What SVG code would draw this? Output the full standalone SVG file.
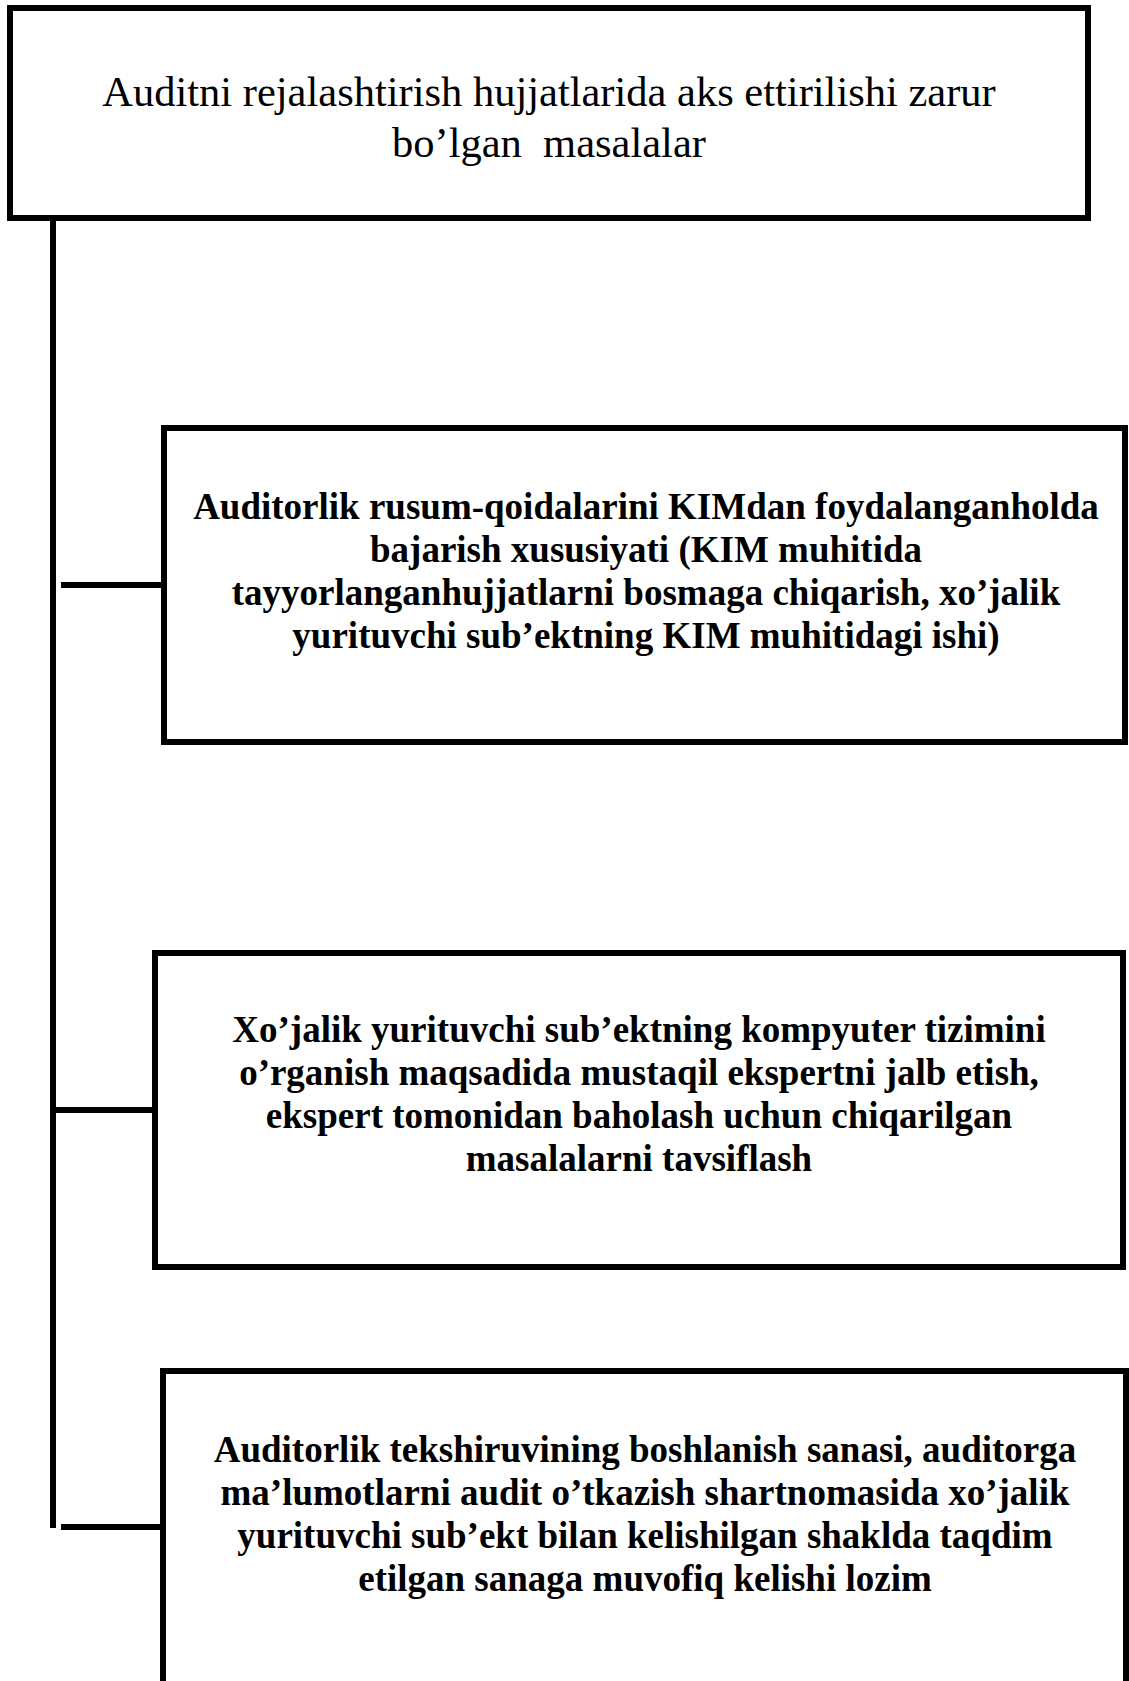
<svg xmlns="http://www.w3.org/2000/svg" width="1129" height="1681" viewBox="0 0 1129 1681">
<style>
.box{fill:#fff;stroke:#000;stroke-width:6}
.ln{stroke:#000;stroke-width:6;fill:none}
.t{font-family:"Liberation Serif","Times New Roman",serif;fill:#000;text-anchor:middle}
.h{font-size:42.5px}
.b{font-size:37px;font-weight:bold}
</style>
<rect width="1129" height="1681" fill="#fff"/>
<g id="connectors">
<line class="ln" x1="53" y1="218" x2="53" y2="1528"/>
<line class="ln" x1="61" y1="585" x2="164" y2="585"/>
<line class="ln" x1="54" y1="1110" x2="155" y2="1110"/>
<line class="ln" x1="61" y1="1527" x2="163" y2="1527"/>
</g>
<g id="node-top">
<rect class="box" x="10" y="8" width="1078" height="210"/>
<text class="t h" x="549" y="106">Auditni rejalashtirish hujjatlarida aks ettirilishi zarur</text>
<text class="t h" x="549" y="157" xml:space="preserve">bo’lgan  masalalar</text>
</g>
<g id="node-1">
<rect class="box" x="164" y="428" width="961" height="314"/>
<text class="t b" x="646" y="519">Auditorlik rusum-qoidalarini KIMdan foydalanganholda</text>
<text class="t b" x="646" y="562">bajarish xususiyati (KIM muhitida</text>
<text class="t b" x="646" y="605">tayyorlanganhujjatlarni bosmaga chiqarish, xo’jalik</text>
<text class="t b" x="646" y="648">yurituvchi sub’ektning KIM muhitidagi ishi)</text>
</g>
<g id="node-2">
<rect class="box" x="155" y="953" width="968" height="314"/>
<text class="t b" x="639" y="1042">Xo’jalik yurituvchi sub’ektning kompyuter tizimini</text>
<text class="t b" x="639" y="1085">o’rganish maqsadida mustaqil ekspertni jalb etish,</text>
<text class="t b" x="639" y="1128">ekspert tomonidan baholash uchun chiqarilgan</text>
<text class="t b" x="639" y="1171">masalalarni tavsiflash</text>
</g>
<g id="node-3">
<rect class="box" x="163" y="1371" width="963" height="340"/>
<text class="t b" x="645" y="1462">Auditorlik tekshiruvining boshlanish sanasi, auditorga</text>
<text class="t b" x="645" y="1505">ma’lumotlarni audit o’tkazish shartnomasida xo’jalik</text>
<text class="t b" x="645" y="1548">yurituvchi sub’ekt bilan kelishilgan shaklda taqdim</text>
<text class="t b" x="645" y="1591">etilgan sanaga muvofiq kelishi lozim</text>
</g>
</svg>
